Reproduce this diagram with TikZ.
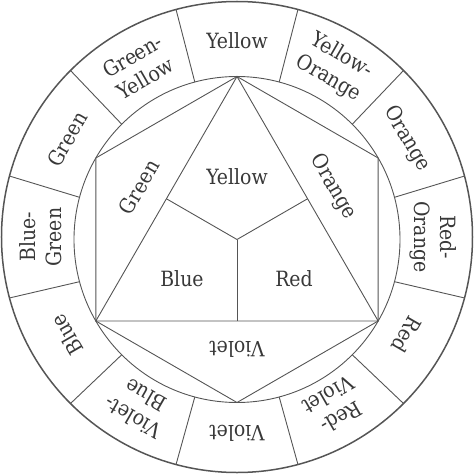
\documentclass[tikz,border=0pt]{standalone}
\usepackage{fontspec}
\setmainfont{DejaVu Serif Condensed}
\usetikzlibrary{calc}
\definecolor{wheelline}{HTML}{555555}
\definecolor{wheeltext}{HTML}{383838}
\tikzset{
	wheel/.style={draw=wheelline, line width=0.9pt},
	colorlabel/.style={text=wheeltext, align=center, inner sep=0pt, font=\fontsize{21}{26}\selectfont},
}
\begin{document}
\begin{tikzpicture}[x=1pt,y=1pt]
	\useasboundingbox (-237,-237) rectangle (237,237);
	\coordinate (o) at (0,0);
	\coordinate (c) at (0,-2.5);
	\foreach \n/\t in {top/90, ul/150, ll/210, bot/270, lr/330, ur/30}
		\coordinate (\n) at ($(c)+(\t:163)$);
	\draw[wheel, line width=1.5pt] (o) circle (235.5);
	\draw[wheel] (c) circle (163);
	\foreach \a in {15,45,...,345}
		\draw[wheel] ($(c)+(\a:163)$) -- (\a:235.5);
	\draw[wheel] (top) -- (ul) -- (ll) -- (bot) -- (lr) -- (ur) -- cycle;
	\draw[wheel] (top) -- (ll) -- (lr) -- cycle;
	\draw[wheel] (c) -- ($(ll)!0.5!(lr)$);
	\draw[wheel] (c) -- ($(top)!0.5!(ll)$);
	\draw[wheel] (c) -- ($(top)!0.5!(lr)$);
	\foreach \a/\t in {90/Yellow, 60/Yellow-\\Orange, 30/Orange, 0/Red-\\Orange, 330/Red, 300/Red-\\Violet, 270/Violet, 240/Violet-\\Blue, 210/Blue, 180/Blue-\\Green, 150/Green, 120/Green-\\Yellow}
		\node[colorlabel, rotate=\a-90] (ring\a) at (\a:196) {\t};
	\node[colorlabel] (yellow) at (0,60) {Yellow};
	\node[colorlabel] (blue) at (-55,-42) {Blue};
	\node[colorlabel] (red) at (57,-42) {Red};
	\node[colorlabel, rotate=180] (violet) at (0,-112) {Violet};
	\node[colorlabel, rotate=60] (green) at (-98,50) {Green};
	\node[colorlabel, rotate=-60] (orange) at (96,50) {Orange};
\end{tikzpicture}
\end{document}
